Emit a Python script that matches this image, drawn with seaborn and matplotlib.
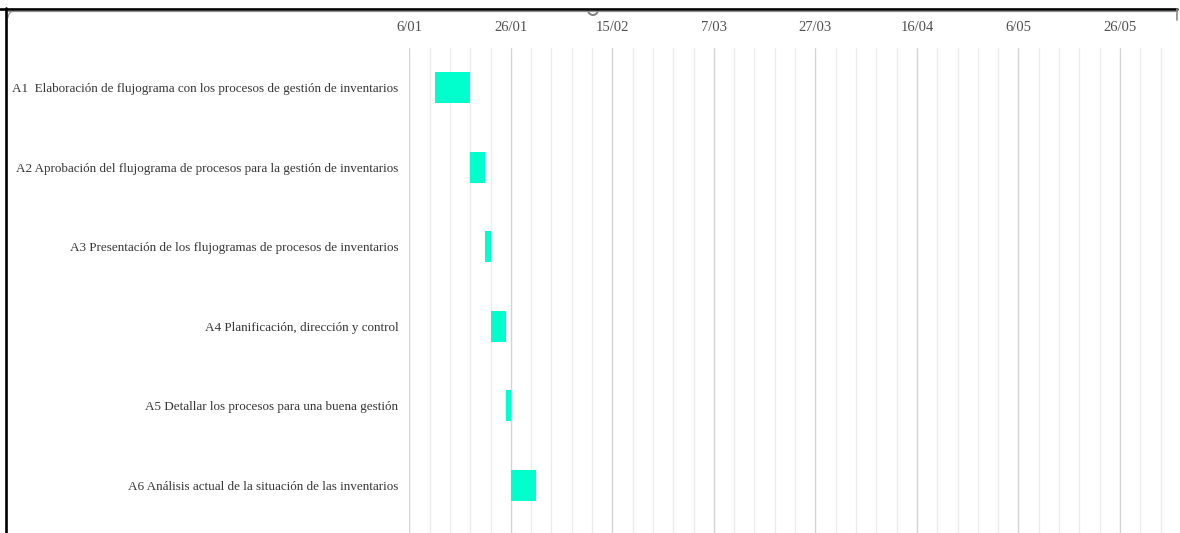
import matplotlib
matplotlib.use("Agg")
import matplotlib.pyplot as plt
import matplotlib.dates as mdates
from matplotlib.lines import Line2D
from matplotlib.patches import Arc
from matplotlib.ticker import FixedLocator, FuncFormatter
import numpy as np
import pandas as pd
import seaborn as sns

# Activities of the inventory-process plan
tasks = [
    "A1  Elaboración de flujograma con los procesos de gestión de inventarios",
    "A2 Aprobación del flujograma de procesos para la gestión de inventarios",
    "A3 Presentación de los flujogramas de procesos de inventarios",
    "A4 Planificación, dirección y control",
    "A5 Detallar los procesos para una buena gestión",
    "A6 Análisis actual de la situación de las inventarios",
]
start_dates = ["2022-01-11", "2022-01-18", "2022-01-21",
               "2022-01-22", "2022-01-25", "2022-01-26"]
durations = [7, 3, 1, 3, 1, 5]

tick_dates = ["2022-01-06", "2022-01-26", "2022-02-15", "2022-03-07",
              "2022-03-27", "2022-04-16", "2022-05-06", "2022-05-26"]
axis_start = "2022-01-06"
axis_end = "2022-06-05"

df = pd.DataFrame({
    "task": tasks,
    "start": mdates.date2num(pd.to_datetime(start_dates)),
    "duration": durations,
})

sns.set_theme(style="white")
plt.rcParams["font.family"] = ["Liberation Serif", "DejaVu Serif"]

W, H = 1180, 533
fig = plt.figure(figsize=(W / 100, H / 100), dpi=100)
fig.patch.set_facecolor("white")

x0 = mdates.date2num(pd.Timestamp(axis_start))
x1 = mdates.date2num(pd.Timestamp(axis_end))
px_per_day = 5.076
ax_left, ax_top = 409.3, 47.7
ax = fig.add_axes([ax_left / W, 0.0, (x1 - x0) * px_per_day / W, 1 - ax_top / H])

sns.barplot(data=df, x="duration", y="task", orient="y",
            left=df["start"].to_numpy(), color="#00ffcc", saturation=1,
            width=0.39, errorbar=None, linewidth=0, ax=ax)

ax.set_xlim(x0, x1)
n_rows = (H - ax_top) / 79.6
ax.set_ylim(n_rows - 0.5, -0.5)

major = mdates.date2num(pd.to_datetime(tick_dates))
minor = np.arange(x0, x1 + 0.1, 4)
ax.xaxis.set_major_locator(FixedLocator(major))
ax.xaxis.set_minor_locator(FixedLocator(minor))
ax.xaxis.set_major_formatter(
    FuncFormatter(lambda v, _: f"{mdates.num2date(v).day}/{mdates.num2date(v).month:02d}"))
ax.xaxis.tick_top()
ax.set_axisbelow(True)
ax.grid(which="minor", axis="x", color="#ececec", linewidth=1.0)
ax.grid(which="major", axis="x", color="#d4d4d4", linewidth=1.0)
ax.grid(which="major", axis="y", visible=False)

ax.tick_params(axis="x", which="both", length=0, pad=10,
               labelsize=10.5, labelcolor="#505050")
ax.tick_params(axis="y", length=0, pad=8, labelsize=9.45, labelcolor="#383838")
ax.set_xlabel("")
ax.set_ylabel("")
sns.despine(ax=ax, left=True, bottom=True, top=True, right=True)

# Window frame around the chart
def fx(px):
    return px / W

def fy(py):
    return 1 - py / H

fig.add_artist(Line2D([fx(0), fx(1177)], [fy(8.5), fy(8.5)],
                      color="black", linewidth=1.9, transform=fig.transFigure))
fig.add_artist(Line2D([fx(8), fx(1176)], [fy(11.2), fy(11.2)],
                      color="#8f8f8f", linewidth=0.9, transform=fig.transFigure))
fig.add_artist(Line2D([fx(6.2), fx(6.2)], [fy(8), fy(533)],
                      color="black", linewidth=1.9, transform=fig.transFigure))
fig.add_artist(Line2D([fx(1176.5), fx(1176.5)], [fy(9), fy(20)],
                      color="#8a8a8a", linewidth=1.2, transform=fig.transFigure))
fig.add_artist(Arc((fx(593), fy(10)), 10 / W, 10 / H, theta1=180, theta2=360,
                   color="#808080", linewidth=1.4, transform=fig.transFigure))
fig.add_artist(Arc((fx(14), fy(18)), 12 / W, 14 / H, theta1=90, theta2=180,
                   color="#9a9a9a", linewidth=0.9, transform=fig.transFigure))

fig.savefig("out.png", dpi=100, facecolor="white")
